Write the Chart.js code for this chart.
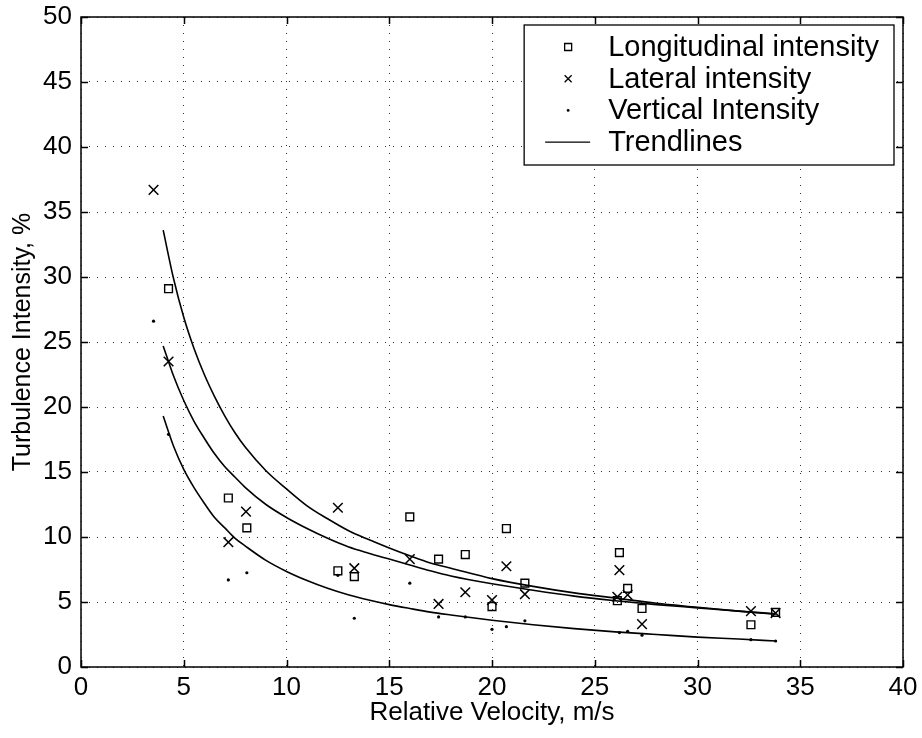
<!DOCTYPE html>
<html>
<head>
<meta charset="utf-8">
<script src="https://cdn.jsdelivr.net/npm/chart.js@4.4.0/dist/chart.umd.min.js"></script>
<style>
  html, body { margin: 0; padding: 0; background: #fff; }
</style>
</head>
<body>
<canvas id="myChart" width="922" height="738"></canvas>
<script>
// measured points (velocity m/s, intensity %)
const longX = [4.26, 7.17, 8.07, 12.5, 13.3, 16.0, 17.4, 18.7, 20.0, 20.7, 21.6, 26.1, 26.2, 26.6, 27.3, 32.6, 33.8];
const longY = [29.1, 13.0, 10.7, 7.4, 6.95, 11.55, 8.3, 8.65, 4.65, 10.65, 6.45, 5.1, 8.8, 6.05, 4.5, 3.25, 4.2];

const latX = [3.53, 4.26, 7.17, 8.03, 12.5, 13.3, 16.0, 17.4, 18.7, 20.0, 20.7, 21.6, 26.1, 26.2, 26.6, 27.3, 32.6, 33.8];
const latY = [36.7, 23.5, 9.6, 11.95, 12.25, 7.6, 8.3, 4.85, 5.75, 5.15, 7.75, 5.6, 5.4, 7.45, 5.55, 3.3, 4.3, 4.15];

const vertX = [3.53, 4.26, 7.17, 8.07, 12.5, 13.3, 16.0, 17.4, 18.7, 20.0, 20.7, 21.6, 26.2, 26.6, 27.3, 32.6, 33.8];
const vertY = [26.6, 17.9, 6.7, 7.25, 7.05, 3.75, 6.45, 3.85, 3.85, 2.9, 3.1, 3.55, 2.65, 2.75, 2.45, 2.1, 2.0];

// trendlines
const trendX = [4, 4.5, 5, 5.5, 6, 6.5, 7, 7.5, 8, 9, 10, 11, 12, 13, 14, 15, 16, 17, 18, 20, 22, 24, 26, 28, 30, 32, 33.8];
const trendLong = [33.6, 29.9, 26.9, 24.5, 22.5, 20.8, 19.3, 18.0, 16.9, 15.1, 13.7, 12.4, 11.4, 10.5, 9.8, 9.15, 8.55, 8.0, 7.6, 6.8, 6.2, 5.7, 5.3, 4.9, 4.6, 4.3, 4.06];
const trendLat = [24.7, 22.4, 20.5, 18.9, 17.6, 16.4, 15.4, 14.6, 13.8, 12.5, 11.5, 10.65, 9.9, 9.25, 8.75, 8.3, 7.85, 7.4, 7.0, 6.4, 5.9, 5.45, 5.1, 4.8, 4.55, 4.3, 4.1];
const trendVert = [19.3, 17.0, 15.2, 13.8, 12.6, 11.5, 10.7, 9.9, 9.3, 8.2, 7.35, 6.65, 6.05, 5.55, 5.15, 4.8, 4.5, 4.22, 4.0, 3.6, 3.25, 2.95, 2.7, 2.5, 2.3, 2.15, 2.0];

const xTicks = [0, 5, 10, 15, 20, 25, 30, 35, 40];
const yTicks = [0, 5, 10, 15, 20, 25, 30, 35, 40, 45, 50];
const legendLabels = ['Longitudinal intensity', 'Lateral intensity', 'Vertical Intensity', 'Trendlines'];

const FONT = '"Liberation Sans", Arial, Helvetica, sans-serif';

function toPoints(xs, ys) {
    return xs.map((x, i) => ({ x: x, y: ys[i] }));
}

// box round the plot with inward tick marks
const frame = {
    id: 'frame',
    afterDatasetsDraw(chart) {
        const ctx = chart.ctx;
        const a = chart.chartArea;
        const sx = chart.scales.x;
        const sy = chart.scales.y;
        ctx.save();
        ctx.strokeStyle = '#000';
        ctx.lineWidth = 1.5;
        ctx.setLineDash([]);
        ctx.strokeRect(a.left, a.top, a.right - a.left, a.bottom - a.top);
        ctx.beginPath();
        xTicks.forEach(v => {
            const px = Math.round(sx.getPixelForValue(v)) + 0.5;
            ctx.moveTo(px, a.bottom); ctx.lineTo(px, a.bottom - 7);
            ctx.moveTo(px, a.top); ctx.lineTo(px, a.top + 7);
        });
        yTicks.forEach(v => {
            const py = Math.round(sy.getPixelForValue(v)) + 0.5;
            ctx.moveTo(a.left, py); ctx.lineTo(a.left + 7, py);
            ctx.moveTo(a.right, py); ctx.lineTo(a.right - 7, py);
        });
        ctx.stroke();
        ctx.restore();
    }
};

// legend drawn inside the plot, top right
const insideLegend = {
    id: 'insideLegend',
    afterDraw(chart) {
        const ctx = chart.ctx;
        const a = chart.chartArea;
        ctx.save();
        ctx.font = '29px ' + FONT;
        let maxW = 0;
        legendLabels.forEach(t => { maxW = Math.max(maxW, ctx.measureText(t).width); });
        const boxW = 84 + maxW + 15;
        const boxH = 140;
        const left = a.right - 9 - boxW;
        const top = a.top + 8;
        ctx.fillStyle = '#fff';
        ctx.fillRect(left, top, boxW, boxH);
        ctx.strokeStyle = '#000';
        ctx.lineWidth = 1.3;
        ctx.strokeRect(left, top, boxW, boxH);

        const mx = left + 44;
        legendLabels.forEach((t, i) => {
            const y = top + 22 + i * 31.7;
            ctx.beginPath();
            if (i === 0) {
                ctx.rect(mx - 3.5, y - 3.5, 7, 7);
                ctx.stroke();
            } else if (i === 1) {
                ctx.moveTo(mx - 3.5, y - 3.5); ctx.lineTo(mx + 3.5, y + 3.5);
                ctx.moveTo(mx + 3.5, y - 3.5); ctx.lineTo(mx - 3.5, y + 3.5);
                ctx.stroke();
            } else if (i === 2) {
                ctx.fillStyle = '#000';
                ctx.arc(mx, y, 1.4, 0, Math.PI * 2);
                ctx.fill();
            } else {
                ctx.moveTo(left + 21, y); ctx.lineTo(left + 66, y);
                ctx.stroke();
            }
            ctx.fillStyle = '#000';
            ctx.textBaseline = 'middle';
            ctx.textAlign = 'left';
            ctx.fillText(t, left + 84, y + 1);
        });
        ctx.restore();
    }
};

const trendStyle = {
    type: 'line',
    showLine: true,
    borderColor: '#000',
    borderWidth: 1.6,
    pointRadius: 0,
    fill: false,
    cubicInterpolationMode: 'monotone'
};

const ctx = document.getElementById('myChart').getContext('2d');
const myChart = new Chart(ctx, {
    type: 'scatter',
    data: {
        datasets: [
            Object.assign({ label: 'trend long', data: toPoints(trendX, trendLong) }, trendStyle),
            Object.assign({ label: 'trend lat', data: toPoints(trendX, trendLat) }, trendStyle),
            Object.assign({ label: 'trend vert', data: toPoints(trendX, trendVert) }, trendStyle),
            {
                label: legendLabels[0],
                data: toPoints(longX, longY),
                pointStyle: 'rect',
                pointRadius: 5.5,
                borderColor: '#000',
                borderWidth: 1.4,
                backgroundColor: 'rgba(0,0,0,0)'
            },
            {
                label: legendLabels[1],
                data: toPoints(latX, latY),
                pointStyle: 'crossRot',
                pointRadius: 6.8,
                borderColor: '#000',
                borderWidth: 1.5
            },
            {
                label: legendLabels[2],
                data: toPoints(vertX, vertY),
                pointStyle: 'circle',
                pointRadius: 1.6,
                borderWidth: 0,
                backgroundColor: '#000'
            }
        ]
    },
    options: {
        responsive: false,
        animation: false,
        devicePixelRatio: 1,
        layout: { padding: { top: 17, right: 19, left: 0, bottom: 0 } },
        plugins: {
            legend: { display: false },
            tooltip: { enabled: false }
        },
        scales: {
            x: {
                type: 'linear',
                min: 0,
                max: 40,
                afterFit: s => { s.height = 71; s.paddingLeft = 0; s.paddingRight = 0; },
                afterBuildTicks: s => { s.ticks = xTicks.map(v => ({ value: v })); },
                ticks: { color: '#000', padding: 5, font: { family: FONT, size: 26 } },
                grid: { color: '#333', lineWidth: 1, drawTicks: false },
                border: { display: false, dash: [1, 7] },
                title: {
                    display: true,
                    text: 'Relative Velocity, m/s',
                    color: '#000',
                    font: { family: FONT, size: 26 },
                    padding: { top: 0, bottom: 10 }
                }
            },
            y: {
                type: 'linear',
                min: 0,
                max: 50,
                afterFit: s => { s.width = 81; s.paddingTop = 0; s.paddingBottom = 0; },
                afterBuildTicks: s => { s.ticks = yTicks.map(v => ({ value: v })); },
                ticks: { color: '#000', padding: 9, font: { family: FONT, size: 26 } },
                grid: { color: '#333', lineWidth: 1, drawTicks: false },
                border: { display: false, dash: [1, 7] },
                title: {
                    display: true,
                    text: 'Turbulence Intensity, %',
                    color: '#000',
                    font: { family: FONT, size: 25 },
                    padding: { top: 8, bottom: 0 }
                }
            }
        }
    },
    plugins: [frame, insideLegend]
});
</script>
</body>
</html>
